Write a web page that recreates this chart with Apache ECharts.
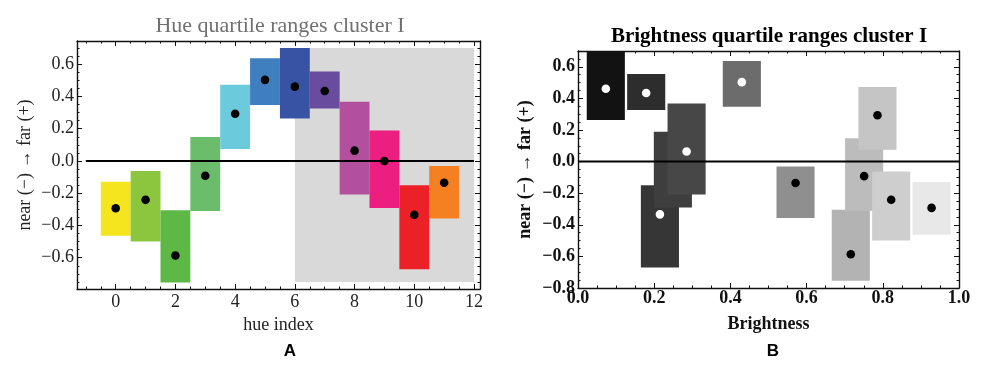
<!DOCTYPE html>
<html><head><meta charset="utf-8">
<script src="https://cdn.jsdelivr.net/npm/echarts@6/dist/echarts.min.js"></script>
<style>html,body{margin:0;padding:0;background:#fff}#c{width:992px;height:373px}</style>
</head><body><div id="c"></div>
<script>
// ---------- data ----------
const hueIndex   = [0, 1, 2, 3, 4, 5, 6, 7, 8, 9, 10, 11];
const hueMedian  = [-0.293, -0.241, -0.586, -0.092, 0.293, 0.503, 0.461, 0.434, 0.064, 0.000, -0.334, -0.135];
const hueQ1      = [-0.463, -0.500, -0.754, -0.311, 0.075, 0.347, 0.264, 0.326, -0.208, -0.291, -0.671, -0.357];
const hueQ3      = [-0.129, -0.062, -0.305, 0.148, 0.472, 0.637, 0.700, 0.555, 0.368, 0.189, -0.150, -0.031];
const brightness = [0.928, 0.822, 0.716, 0.751, 0.786, 0.430, 0.073, 0.179, 0.285, 0.249, 0.215, 0.571];
const shadeX = [6, 12];
const shadeY = [-0.75, 0.70];
const zeroLineA = [-1, 12];
const zeroLineB = [0, 1];
const hueTicks = [0, 2, 4, 6, 8, 10, 12];
const nearFarTicksA = [-0.6, -0.4, -0.2, 0, 0.2, 0.4, 0.6];
const brightTicks = [0, 0.2, 0.4, 0.6, 0.8, 1.0];
const nearFarTicksB = [-0.8, -0.6, -0.4, -0.2, 0, 0.2, 0.4, 0.6];

// ---------- style ----------
const hueColors = ['#f5e51f','#8cc63e','#5db846','#6bbd6b','#6ccadd','#3f7fc0','#3953a4','#6a4c9f','#b3509d','#ec1e80','#ec2027','#f48021'];
const hueHalf = 0.5, brightHalf = 0.05, dotR = 4.3;
const serif = 'Liberation Serif';
const rangeA = {x: [-1.296, 12.2], y: [-0.794, 0.744]};
const rangeB = {x: [0, 1], y: [-0.8, 0.70]};

function minorVals(step, kmin, kmax, every) {
  const out = [];
  for (let k = kmin; k <= kmax; k++) if (k % every !== 0) out.push(+(k * step).toFixed(4));
  return out;
}
const fmt1 = v => (Math.abs(v) < 1e-9 ? 0 : v).toFixed(1).replace('-', '\u2212');

function axes(grid, range, majors, minors, sides, labelOpts, nameOpts) {
  const out = [];
  sides.forEach((pos, k) => {
    [majors, minors].forEach((vals, m) => {
      const main = (k === 0 && m === 0);
      const ax = {
        type: 'value', gridIndex: grid, position: pos, min: range[0], max: range[1],
        axisLine: {show: m === 0, onZero: false, lineStyle: {color: '#111', width: 1.4}},
        axisTick: {show: true, inside: true, length: m === 0 ? 5 : 2.5, customValues: vals, lineStyle: {color: '#111', width: 1}},
        axisLabel: main ? Object.assign({show: true, customValues: majors}, labelOpts) : {show: false},
        splitLine: {show: false}
      };
      if (main && nameOpts) Object.assign(ax, nameOpts);
      out.push(ax);
    });
  });
  return out;
}

const labA = {fontFamily: serif, fontSize: 18, color: '#222'};
const labB = {fontFamily: serif, fontSize: 18, fontWeight: 'bold', color: '#111'};

const xAxes = [].concat(
  axes(0, rangeA.x, hueTicks, minorVals(0.5, -2, 24, 4), ['bottom', 'top'],
    Object.assign({margin: 4, formatter: v => String(Math.round(v))}, labA),
    {name: 'hue index', nameLocation: 'middle', nameGap: 25, nameTextStyle: {fontFamily: serif, fontSize: 18, color: '#222'}}),
  axes(1, rangeB.x, brightTicks, minorVals(0.05, 0, 20, 4), ['bottom', 'top'],
    Object.assign({margin: 1, formatter: fmt1}, labB),
    {name: 'Brightness', nameLocation: 'middle', nameGap: 27, nameTextStyle: {fontFamily: serif, fontSize: 18, fontWeight: 'bold', color: '#111'}})
);
const yAxes = [].concat(
  axes(0, rangeA.y, nearFarTicksA, minorVals(0.05, -15, 14, 4), ['left', 'right'],
    Object.assign({margin: 3, formatter: fmt1}, labA),
    {name: 'near (\u2212) \u2192 far (+)', nameLocation: 'middle', nameGap: 43, nameTextStyle: {fontFamily: serif, fontSize: 18, color: '#222'}}),
  axes(1, rangeB.y, nearFarTicksB, minorVals(0.05, -16, 14, 4), ['left', 'right'],
    Object.assign({margin: 3, formatter: fmt1}, labB),
    {name: 'near (\u2212) \u2192 far (+)', nameLocation: 'middle', nameGap: 44, nameTextStyle: {fontFamily: serif, fontSize: 18, fontWeight: 'bold', color: '#111'}})
);
const AX0 = 0, AX1 = 4;

const hueRows = hueIndex.map((h, i) => [h, hueQ1[i], hueQ3[i], hueMedian[i], i]);
const order = hueIndex.slice().sort((a, b) => brightness[a] - brightness[b]);
const brightRows = order.map(i => [brightness[i], hueQ1[i], hueQ3[i], hueMedian[i], i]);

function boxItem(half, colorFn, dotFn) {
  return function (params, api) {
    const x = api.value(0), lo = api.value(1), hi = api.value(2), med = api.value(3), i = api.value(4);
    const p1 = api.coord([x - half, hi]), p2 = api.coord([x + half, lo]);
    const c = api.coord([x, med]);
    return {type: 'group', children: [
      {type: 'rect', shape: {x: p1[0], y: p1[1], width: p2[0] - p1[0], height: p2[1] - p1[1]}, style: {fill: colorFn(i)}},
      {type: 'circle', shape: {cx: c[0], cy: c[1], r: dotR}, style: {fill: dotFn(i)}}
    ]};
  };
}
const grayOf = i => { const g = Math.round(brightness[i] * 250); return `rgb(${g},${g},${g})`; };

const option = {
  animation: false,
  backgroundColor: '#fff',
  grid: [
    {left: 77, top: 41, width: 403, height: 248},
    {left: 578, top: 51, width: 381, height: 237}
  ],
  xAxis: xAxes,
  yAxis: yAxes,
  graphic: [
    {type: 'text', x: 280, y: 26, style: {text: 'Hue quartile ranges cluster I', font: '22px "Liberation Serif"', fill: '#707070', align: 'center', verticalAlign: 'middle'}},
    {type: 'text', x: 769, y: 37, style: {text: 'Brightness quartile ranges cluster I', font: 'bold 21px "Liberation Serif"', fill: '#000', align: 'center', verticalAlign: 'middle'}},
    {type: 'text', x: 290, y: 351, style: {text: 'A', font: 'bold 17px "Liberation Sans"', fill: '#000', align: 'center', verticalAlign: 'middle'}},
    {type: 'text', x: 773, y: 351, style: {text: 'B', font: 'bold 17px "Liberation Sans"', fill: '#000', align: 'center', verticalAlign: 'middle'}}
  ],
  series: [
    {type: 'custom', name: 'shade', xAxisIndex: AX0, yAxisIndex: AX0, z: 1,
     data: [[shadeX[0], shadeY[0], shadeX[1], shadeY[1]]],
     renderItem: (params, api) => {
       const p1 = api.coord([api.value(0), api.value(3)]), p2 = api.coord([api.value(2), api.value(1)]);
       return {type: 'rect', shape: {x: p1[0], y: p1[1], width: p2[0] - p1[0], height: p2[1] - p1[1]}, style: {fill: '#d9d9d9'}};
     }},
    {type: 'custom', name: 'hue', xAxisIndex: AX0, yAxisIndex: AX0, z: 2, data: hueRows,
     renderItem: boxItem(hueHalf, i => hueColors[i], () => '#000')},
    {type: 'line', xAxisIndex: AX0, yAxisIndex: AX0, z: 3, symbol: 'none', silent: true,
     data: [[zeroLineA[0], 0], [zeroLineA[1], 0]], lineStyle: {color: '#000', width: 2}},
    {type: 'custom', name: 'brightness', xAxisIndex: AX1, yAxisIndex: AX1, z: 2, data: brightRows,
     renderItem: boxItem(brightHalf, grayOf, i => brightness[i] < 0.5 ? '#fff' : '#000')},
    {type: 'line', xAxisIndex: AX1, yAxisIndex: AX1, z: 3, symbol: 'none', silent: true,
     data: [[zeroLineB[0], 0], [zeroLineB[1], 0]], lineStyle: {color: '#000', width: 2}}
  ]
};
const chart = echarts.init(document.getElementById('c'), null, {renderer: 'canvas'});
chart.setOption(option);
</script>
</body></html>
